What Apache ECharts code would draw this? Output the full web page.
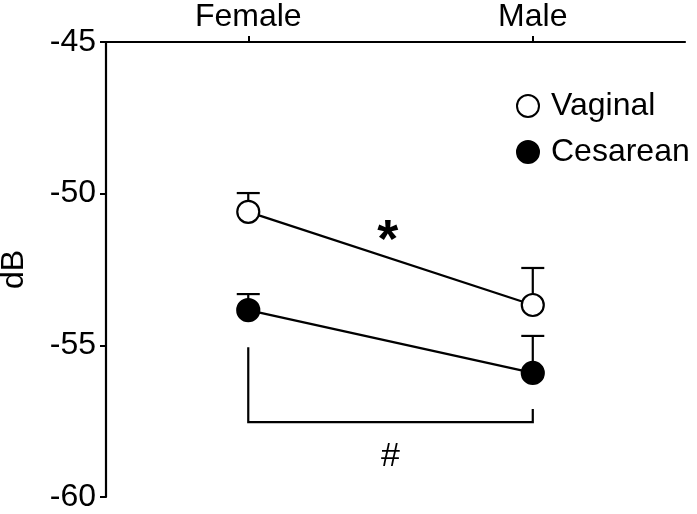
<!DOCTYPE html>
<html>
<head>
<meta charset="utf-8">
<script src="https://cdn.jsdelivr.net/npm/echarts@6/dist/echarts.min.js"></script>
<style>html,body{margin:0;padding:0;background:#fff;}#c{width:697px;height:514px;}</style>
</head>
<body>
<div id="c"></div>
<script>
var categories = ['Female', 'Male'];
var categoryPos = [0, 1];
var yTicks = [-60, -55, -50, -45];
var vaginalMean = [-50.6, -53.67];
var vaginalErr = [0.62, 1.22];
var cesareanMean = [-53.84, -55.91];
var cesareanErr = [0.53, 1.22];
var starMark = [0.49, -51.6];
var bracketLeftTop = -55.06;
var bracketRightTop = -57.1;
var bracketBottom = -57.53;
var hashMark = [0.5, -58.67];

var FONT = 'Liberation Sans, Arial, sans-serif';
var FS = 32;
var chart = echarts.init(document.getElementById('c'));

function pts(means) { return means.map(function (m, i) { return [categoryPos[i], m]; }); }
function errData(means, errs) { return means.map(function (m, i) { return [categoryPos[i], m, m + errs[i]]; }); }

function errRender(params, api) {
  var lo = api.coord([api.value(0), api.value(1)]);
  var hi = api.coord([api.value(0), api.value(2)]);
  var half = 11.5;
  return {
    type: 'group',
    children: [
      { type: 'line', shape: { x1: lo[0], y1: lo[1], x2: hi[0], y2: hi[1] }, style: { stroke: '#000', lineWidth: 2.2 } },
      { type: 'line', shape: { x1: hi[0] - half, y1: hi[1], x2: hi[0] + half, y2: hi[1] }, style: { stroke: '#000', lineWidth: 2.2 } }
    ]
  };
}

var option = {
  backgroundColor: '#fff',
  animation: false,
  grid: { left: 106, right: 12, top: 42, bottom: 17, containLabel: false, outerBoundsMode: 'none' },
  xAxis: {
    type: 'value', position: 'top', min: -0.5, max: 1.535,
    axisLine: { show: true, onZero: false, lineStyle: { color: '#000', width: 2.2 } },
    axisTick: { show: true, customValues: categoryPos, length: 6, lineStyle: { color: '#000', width: 2 } },
    axisLabel: { customValues: categoryPos, margin: 9, color: '#000', fontSize: FS, fontFamily: FONT,
      formatter: function (v) { var i = categoryPos.indexOf(Math.round(v)); return i >= 0 ? categories[i] : ''; } },
    splitLine: { show: false }
  },
  yAxis: {
    type: 'value', min: -60, max: -45, interval: 5,
    name: 'dB', nameLocation: 'middle', nameGap: 76, nameRotate: 90,
    nameTextStyle: { color: '#000', fontSize: FS, fontFamily: FONT },
    axisLine: { show: true, onZero: false, lineStyle: { color: '#000', width: 2.2 } },
    axisTick: { show: true, length: 6, lineStyle: { color: '#000', width: 2 } },
    axisLabel: { margin: 10, color: '#000', fontSize: FS, fontFamily: FONT,
      customValues: yTicks },
    splitLine: { show: false }
  },
  legend: {
    orient: 'vertical', left: 511, top: 85, itemWidth: 22, itemHeight: 22, itemGap: 14,
    icon: 'circle',
    textStyle: { color: '#000', fontSize: FS, fontFamily: FONT, lineHeight: 30, padding: [0, 0, 0, 7] },
    data: [
      { name: 'Vaginal', itemStyle: { color: '#fff', borderColor: '#000', borderWidth: 2 } },
      { name: 'Cesarean', itemStyle: { color: '#000', borderColor: '#000', borderWidth: 2 } }
    ]
  },
  series: [
    { type: 'custom', name: 'errV', renderItem: errRender, data: errData(vaginalMean, vaginalErr), z: 1, silent: true },
    { type: 'custom', name: 'errC', renderItem: errRender, data: errData(cesareanMean, cesareanErr), z: 1, silent: true },
    { type: 'line', name: 'Vaginal', data: pts(vaginalMean), symbol: 'circle', symbolSize: 22, z: 3,
      lineStyle: { color: '#000', width: 2.2 }, itemStyle: { color: '#fff', borderColor: '#000', borderWidth: 2.2 } },
    { type: 'line', name: 'Cesarean', data: pts(cesareanMean), symbol: 'circle', symbolSize: 22, z: 3,
      lineStyle: { color: '#000', width: 2.2 }, itemStyle: { color: '#000', borderColor: '#000', borderWidth: 2.2 } },
    { type: 'custom', name: 'bracket', silent: true, z: 2,
      data: [[categoryPos[0], bracketLeftTop, categoryPos[1], bracketRightTop, bracketBottom]],
      renderItem: function (params, api) {
        var a = api.coord([api.value(0), api.value(1)]);
        var ab = api.coord([api.value(0), api.value(4)]);
        var b = api.coord([api.value(2), api.value(3)]);
        var bb = api.coord([api.value(2), api.value(4)]);
        return { type: 'polyline', shape: { points: [a, ab, bb, b] }, style: { stroke: '#000', lineWidth: 2.2, fill: null } };
      } },
    { type: 'custom', name: 'marks', silent: true, z: 4,
      data: [[starMark[0], starMark[1], 0], [hashMark[0], hashMark[1], 1]],
      renderItem: function (params, api) {
        var p = api.coord([api.value(0), api.value(1)]);
        var isHash = api.value(2) === 1;
        return { type: 'text', x: p[0], y: p[1], style: {
          text: isHash ? '#' : '*', fill: '#000', fontFamily: FONT,
          fontSize: isHash ? 34 : 54, fontWeight: isHash ? 'normal' : 'bold',
          align: 'center', verticalAlign: 'middle' } };
      } }
  ]
};
chart.setOption(option);
</script>
</body>
</html>
